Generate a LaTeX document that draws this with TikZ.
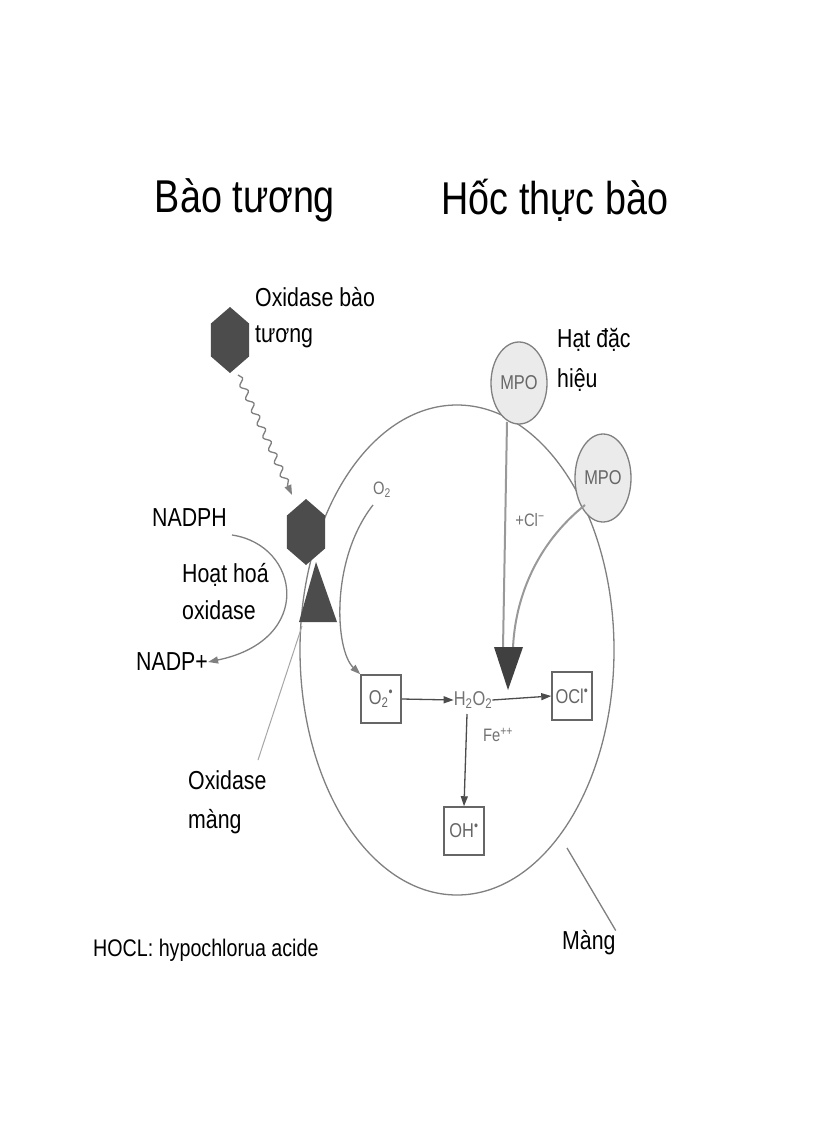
\documentclass[tikz,border=0pt]{standalone}
\usepackage{fontspec}
\setmainfont[FakeStretch=0.82]{Liberation Sans}
\usetikzlibrary{arrows.meta,decorations.pathmorphing,shapes.geometric}
\begin{document}
\begin{tikzpicture}[x=1pt,y=-1pt,
  lbl/.style={font=\fontsize{26}{28}\selectfont,inner sep=0pt,anchor=west},
  ttl/.style={font=\fontsize{46}{48}\selectfont,inner sep=0pt},
  gl/.style={draw=black!50,line width=1.3pt},
  ar/.style={gl,-{Triangle[length=10pt,width=7pt]}},
  hexa/.style={regular polygon,regular polygon sides=6,shape border rotate=90,fill=black!70,minimum size=44pt,yscale=1.5,inner sep=0pt},
  bx/.style={draw=black!60,line width=1.5pt,minimum width=40pt,minimum height=48pt,inner sep=1pt,text=black!60,font=\fontsize{20}{22}\selectfont},
  gt/.style={text=black!55,font=\fontsize{18}{20}\selectfont,inner sep=0pt}]
\fill[white] (0,0) rectangle (816,1123);
\useasboundingbox (0,0) rectangle (816,1123);
% titles
\node[ttl] (t1) at (245,200) {Bào tương};
\node[ttl] (t2) at (555,200) {Hốc thực bào};
% big membrane circle
\draw[gl] (457,650) ellipse [x radius=157,y radius=245];
% cytosol oxidase
\node[hexa] (hx1) at (230,340) {};
\node[lbl] (l1) at (255,297) {Oxidase bào};
\node[lbl] (l2) at (255,337) {tương};
% membrane oxidase
\node[hexa] (hx2) at (306,532) {};
\coordinate (tA) at (316,562);
\coordinate (tB) at (299,622);
\coordinate (tC) at (337,622);
\fill[black!70] (tA) -- (tB) -- (tC) -- cycle;
\draw[gl,decorate,decoration={snake,amplitude=3pt,segment length=14pt,post length=10pt},-{Triangle[length=10pt,width=7pt]}] (238,375) -- (292,495);
% NADPH loop
\node[lbl] (nadph) at (152,518) {NADPH};
\node[lbl] (nadp) at (136,662) {NADP+};
\node[lbl] (h1) at (182,575) {Hoạt hoá};
\node[lbl] (h2) at (182,610) {oxidase};
\draw[ar] (232,535) .. controls (300,545) and (315,640) .. (nadp.east);
% oxidase mang label
\node[lbl] (om1) at (188,780) {Oxidase};
\node[lbl] (om2) at (188,822) {màng};
\draw[draw=black!35,line width=1pt] (302,626) -- (258,760);
% MPO
\node[ellipse,draw=black!50,line width=1.3pt,fill=black!8,minimum width=56pt,minimum height=82pt,inner sep=0pt,text=black!60,font=\fontsize{20}{22}\selectfont] (m1) at (519,383) {MPO};
\node[ellipse,draw=black!50,line width=1.3pt,fill=black!8,minimum width=56pt,minimum height=88pt,inner sep=0pt,text=black!60,font=\fontsize{20}{22}\selectfont] (m2) at (603,478) {MPO};
\node[lbl] (hd1) at (557,340) {Hạt đặc};
\node[lbl] (hd2) at (557,380) {hiệu};
% big triangle
\coordinate (bt1) at (494,647);
\coordinate (bt2) at (523,647);
\coordinate (btip) at (508,690);
\draw[gl,line width=2pt,black!40] (507,422) -- (503,648);
\draw[gl,line width=2pt,black!40] (585,505) .. controls (535,545) and (515,600) .. (513,648);
\fill[black!75] (bt1) -- (bt2) -- (btip) -- cycle;
\node[gt] (cl) at (530,520) {+Cl\textsuperscript{−}};
% O2 path
\node[gt] (o2) at (382,490) {O\textsubscript{2}};
\node[bx] (bo2) at (381,699) {O\textsubscript{2}\textsuperscript{•}};
\draw[ar] (373,505) .. controls (330,560) and (335,650) .. (bo2.north west);
\node[gt,font=\fontsize{20}{22}\selectfont] (h2o2) at (473,700) {H\textsubscript{2}O\textsubscript{2}};
\node[bx] (bocl) at (572,696) {OCl\textsuperscript{•}};
\node[bx] (boh) at (464,831) {OH\textsuperscript{•}};
\draw[ar,black!70] (bo2.east) -- (h2o2.west);
\draw[ar,black!70] (h2o2.east) -- (bocl.west);
\draw[ar,black!70] (467,714) -- (boh.north);
\node[gt] (fe) at (498,735) {Fe\textsuperscript{++}};
% Mang
\node[lbl] (mg) at (562,943) {Màng};
\draw[gl] (567,848) -- (mg.north east);
\node[lbl,font=\fontsize{24}{26}\selectfont] (hocl) at (93,950) {HOCL: hypochlorua acide};
\end{tikzpicture}
\end{document}
